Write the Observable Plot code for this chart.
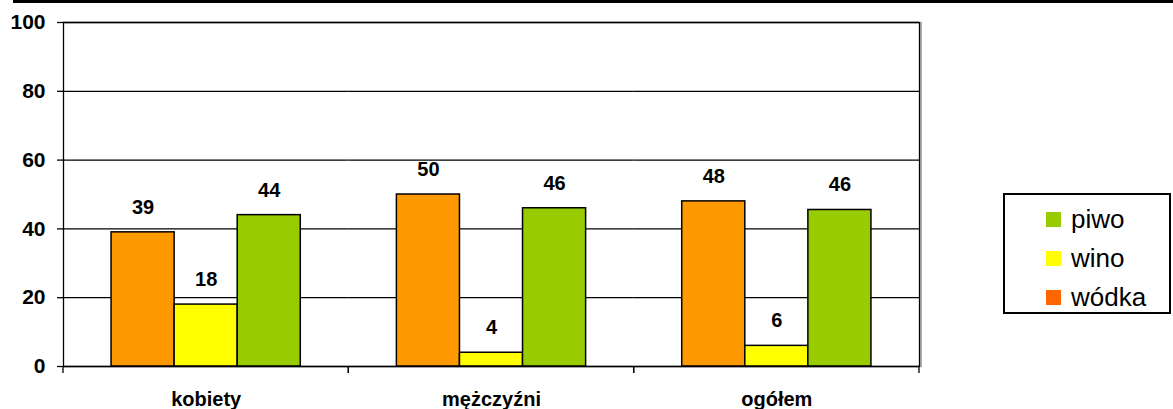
<!DOCTYPE html>
<html>
<head>
<meta charset="utf-8">
<script src="https://cdn.jsdelivr.net/npm/d3@7"></script>
<script src="https://cdn.jsdelivr.net/npm/@observablehq/plot@0.6"></script>
<style>
  body { margin: 0; background: white; }
  #wrap { position: relative; width: 1173px; height: 409px; overflow: hidden; background: white;
          font-family: "Liberation Sans", Arial, sans-serif; }
  #topframe { position: absolute; left: 13px; top: -20px; width: 1200px; height: 20px;
              border-left: 3px solid black; border-bottom: 3px solid black; }
  #chart { position: absolute; left: 0; top: 0; }
  #legend { position: absolute; left: 1003px; top: 193px; width: 164px; height: 117px;
            border: 2px solid black; background: white; }
  .item { position: absolute; left: 41px; height: 30px; display: flex; align-items: center;
          font-size: 26px; color: black; }
  .sw { width: 15px; height: 15px; margin-right: 10px; }
</style>
</head>
<body>
<div id="wrap">
  <div id="topframe"></div>
  <div id="chart"></div>
  <div id="legend"></div>
</div>
<script>
const categories = ["kobiety", "mężczyźni", "ogółem"];
const series = ["wódka", "wino", "piwo"];
const wodka = [39, 50, 48];
const wino = [18, 4, 6];
const piwo = [44, 46, 45.5];
const yTicks = [0, 20, 40, 60, 80, 100];
const barColors = ["#FF9900", "#FFFF00", "#99CC00"];
const legendLabels = ["piwo", "wino", "wódka"];
const legendColors = ["#99CC00", "#FFFF00", "#FF6600"];

const seriesValues = {"wódka": wodka, "wino": wino, "piwo": piwo};
const data = categories.flatMap((c, i) => series.map(s => ({cat: c, series: s, value: seriesValues[s][i]})));

const font = "'Liberation Sans', Arial, sans-serif";

// small ticks at the category boundaries (drawn in each facet at its edges)
const boundaryTicks = (index, scales, values, dims) => {
  const g = d3.create("svg:g").attr("stroke", "black").attr("stroke-width", 1.3);
  const y0 = dims.height - dims.marginBottom;
  for (const x of [dims.marginLeft, dims.width - dims.marginRight]) {
    g.append("line").attr("x1", x).attr("x2", x).attr("y1", y0).attr("y2", y0 + 7);
  }
  return g.node();
};

const chart = Plot.plot({
  width: 1173,
  height: 409,
  marginLeft: 63,
  marginRight: 254,
  marginTop: 22,
  marginBottom: 43,
  style: {fontFamily: font, background: "transparent", color: "black", overflow: "visible"},
  fx: {domain: categories, padding: 0, round: false, label: null},
  x: {domain: series, paddingInner: 0, paddingOuter: 0.762, round: false, axis: null},
  y: {domain: [0, 100], axis: null, label: null},
  color: {domain: series, range: barColors},
  marks: [
    Plot.ruleY(yTicks, {stroke: "black", strokeWidth: 1.3}),
    Plot.barY(data, {fx: "cat", x: "series", y: "value", fill: "series", stroke: "black", strokeWidth: 1.5}),
    Plot.text(data, {fx: "cat", x: "series", y: "value", text: d => d.value.toFixed(0), dy: -25,
                     fontSize: 20, fontWeight: "bold", fill: "black"}),
    Plot.frame({facet: "super", anchor: "right", stroke: "#999", strokeWidth: 1.5, dx: 1.5}),
    Plot.frame({facet: "super", stroke: "black", strokeWidth: 1.3}),
    boundaryTicks,
    Plot.axisY(yTicks, {tickSize: 6, tickPadding: 12, fontSize: 21, fontWeight: "bold", label: null,
                        strokeWidth: 1.3, stroke: "black", fill: "black"}),
    Plot.axisFx({anchor: "bottom", tickSize: 0, tickPadding: 25, fontSize: 20, fontWeight: "bold", fill: "black", label: null})
  ]
});
document.getElementById("chart").appendChild(chart);

const legend = document.getElementById("legend");
legendLabels.forEach((lab, i) => {
  const item = document.createElement("div");
  item.className = "item";
  item.style.top = (9 + i * 39) + "px";
  const sw = document.createElement("div");
  sw.className = "sw";
  sw.style.background = legendColors[i];
  const tx = document.createElement("span");
  tx.textContent = lab;
  item.appendChild(sw);
  item.appendChild(tx);
  legend.appendChild(item);
});
</script>
</body>
</html>
